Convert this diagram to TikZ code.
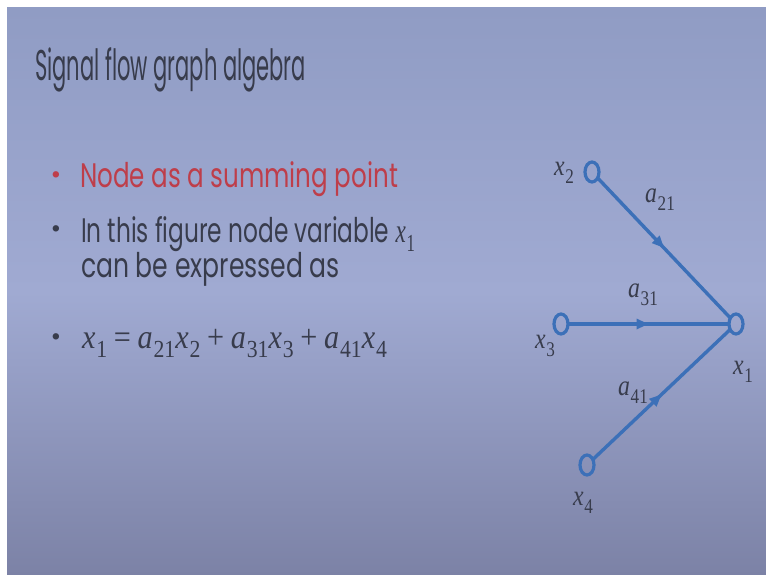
\documentclass[tikz,border=0pt]{standalone}
\usepackage[no-math]{fontspec}
\setmainfont{Poppins}
\newfontfamily\mserif{Liberation Serif}
\usetikzlibrary{arrows.meta,decorations.markings,shapes.geometric}
\definecolor{slidetop}{RGB}{144,156,196}
\definecolor{slidemid}{RGB}{160,170,210}
\definecolor{slidebot}{RGB}{124,130,166}
\definecolor{txtc}{RGB}{56,60,76}
\definecolor{redc}{RGB}{190,62,74}
\definecolor{bluec}{RGB}{60,112,184}
\tikzset{
  txt/.style={inner sep=0pt, outer sep=0pt, text=txtc, anchor=base west},
  lbl/.style={inner sep=0pt, text=txtc},
  sfgnode/.style={ellipse, draw=bluec, line width=3.2pt, minimum width=14pt, minimum height=20pt, inner sep=0pt, outer sep=0pt},
  branch/.style={draw=bluec, line width=3.4pt,
    postaction={decorate, decoration={markings, mark=at position 0.5 with {\arrow[bluec]{Triangle[length=12pt,width=10pt]}}}}},
  dot/.style={inner sep=0pt, anchor=center}
}
\newcommand{\mv}[2]{{\mserif\itshape #1}\kern0.03em\raisebox{-0.28em}{\scalebox{0.72}{\mserif #2}}}
\newcommand{\mop}[1]{\hspace{0.22em}{\mserif #1}\hspace{0.22em}}
\newcommand{\lblm}[2]{\scalebox{0.82}[1]{\fontsize{29}{33}\selectfont\mv{#1}{#2}}}
\begin{document}
\begin{tikzpicture}[x=1pt,y=-1pt]
\useasboundingbox (0,0) rectangle (766,575);
\fill[white] (0,0) rectangle (766,575);
\shade[top color=slidetop, bottom color=slidebot, middle color=slidemid] (7,8) rectangle (766,575);
% title
\node[txt] (title) at (35,81) {\resizebox{271pt}{\height}{\fontsize{43}{50}\selectfont Signal flow graph algebra}};
% bullets
\node[dot, text=redc] (d1) at (56,178) {\fontsize{26}{30}\selectfont •};
\node[txt, text=redc] (b1) at (80,188) {\resizebox{318pt}{\height}{\fontsize{34}{40}\selectfont Node as a summing point}};
\node[dot, text=txtc] (d2) at (56,232) {\fontsize{26}{30}\selectfont •};
\node[txt] (b2) at (81,242) {\resizebox{334pt}{\height}{\fontsize{34}{40}\selectfont In this figure node variable \mv{x}{1}}};
\node[txt] (b2b) at (81,277) {\resizebox{259pt}{\height}{\fontsize{34}{40}\selectfont can be expressed as}};
\node[dot, text=txtc] (d3) at (56,340) {\fontsize{26}{30}\selectfont •};
\node[txt] (b3) at (82,348) {\resizebox{305pt}{\height}{\fontsize{34}{40}\selectfont \mv{x}{1}\mop{=}\mv{a}{21}\mv{x}{2}\mop{+}\mv{a}{31}\mv{x}{3}\mop{+}\mv{a}{41}\mv{x}{4}}};
% graph nodes
\node[sfgnode] (x2) at (592,172) {};
\node[sfgnode] (x3) at (561,324) {};
\node[sfgnode] (x1) at (736,324) {};
\node[sfgnode] (x4) at (587,465) {};
% branches
\draw[branch] (x2) -- (x1);
\draw[branch] (x3) -- (x1);
\draw[branch] (x4) -- (x1);
% labels
\node[lbl] (lx2) at (564,173) {\lblm{x}{2}};
\node[lbl] (la21) at (660,200) {\lblm{a}{21}};
\node[lbl] (la31) at (643,295) {\lblm{a}{31}};
\node[lbl] (lx3) at (545,346) {\lblm{x}{3}};
\node[lbl] (lx1) at (743,372) {\lblm{x}{1}};
\node[lbl] (la41) at (633,393) {\lblm{a}{41}};
\node[lbl] (lx4) at (583,503) {\lblm{x}{4}};
\end{tikzpicture}
\end{document}
